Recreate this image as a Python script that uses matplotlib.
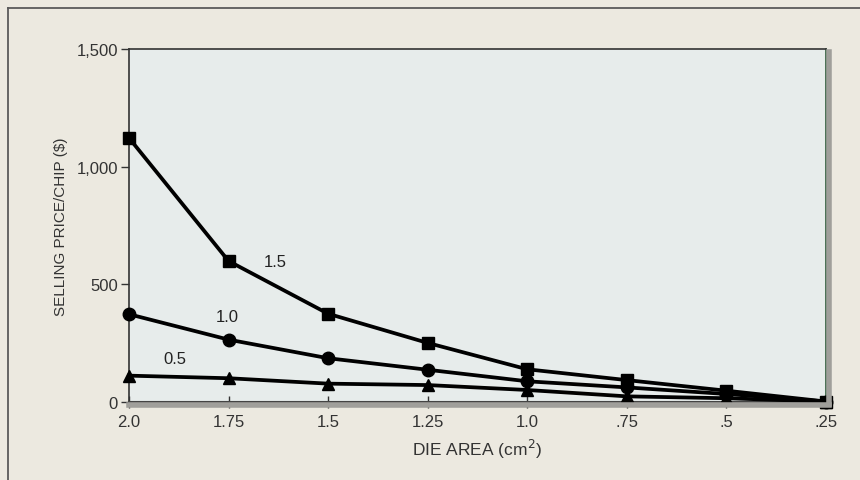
import matplotlib
matplotlib.use("Agg")
import matplotlib.pyplot as plt
from matplotlib.lines import Line2D

plt.rcParams['font.family'] = ['Liberation Sans', 'DejaVu Sans']

die_area = [2.0, 1.75, 1.5, 1.25, 1.0, 0.75, 0.5, 0.25]
x_tick_labels = ["2.0", "1.75", "1.5", "1.25", "1.0", ".75", ".5", ".25"]
y_ticks = [0, 500, 1000, 1500]
y_tick_labels = ["0", "500", "1,000", "1,500"]

price_15 = [1122, 599, 375, 251, 139, 93, 48, 2]
price_10 = [373, 265, 186, 137, 88, 62, 34, 2]
price_05 = [112, 101, 78, 72, 51, 24, 16, 2]

series_names = ["1.5", "1.0", "0.5"]
series_vals = [price_15, price_10, price_05]
markers = ["s", "o", "^"]
label_pos = [(1.634, 595), (1.754, 365), (1.885, 183)]

page_bg = "#ece9e0"
plot_bg = "#e7eceb"

fig = plt.figure(figsize=(8.6, 4.81), dpi=100)
fig.patch.set_facecolor(page_bg)

# outer frame lines (top and left)
fig.add_artist(Line2D([8/860, 1.0], [1 - 9/481, 1 - 9/481], transform=fig.transFigure,
                      color="#5a5a5a", lw=1.3))
fig.add_artist(Line2D([8/860, 8/860], [0, 1 - 9/481], transform=fig.transFigure,
                      color="#5a5a5a", lw=1.3))

ax = fig.add_axes([129/860, 78/481, 697/860, 353/481])
ax.set_facecolor(plot_bg)

# shadows on right and bottom
fig.add_artist(Line2D([829/860, 829/860], [76/481, 428/481], transform=fig.transFigure,
                      color="#a09f9b", lw=4, zorder=0.5))
fig.add_artist(Line2D([129/860, 829/860], [75.5/481, 75.5/481], transform=fig.transFigure,
                      color="#a09f9b", lw=4, zorder=0.5))

for vals, m in zip(series_vals, markers):
    ax.plot(die_area, vals, color="black", lw=2.7, marker=m, markersize=9 if m != "^" else 8,
            markeredgecolor="black", markerfacecolor="black", clip_on=False, zorder=3)

for name, (lx, ly) in zip(series_names, label_pos):
    ax.text(lx, ly, name, fontsize=12, color="#222222", ha="center", va="center")

ax.set_xlim(2.0, 0.25)
ax.set_ylim(0, 1500)
ax.set_xticks(die_area)
ax.set_xticklabels(x_tick_labels)
ax.set_yticks(y_ticks)
ax.set_yticklabels(y_tick_labels)

ax.tick_params(axis="y", direction="out", length=6, width=1, labelsize=12,
               colors="#333333", pad=2)
ax.tick_params(axis="x", direction="inout", length=8, width=1, labelsize=12,
               colors="#333333", pad=5)

for side in ["left", "top"]:
    ax.spines[side].set_color("#333333")
    ax.spines[side].set_linewidth(1.2)
ax.spines["right"].set_color("#2f5a3a")
ax.spines["right"].set_linewidth(1.2)
ax.spines["bottom"].set_color("#444444")
ax.spines["bottom"].set_linewidth(1.5)

ax.set_ylabel("SELLING PRICE/CHIP ($)", fontsize=11, color="#333333")
ax.yaxis.set_label_coords(-0.0875, 0.5)
ax.set_xlabel("DIE AREA (cm$^{2}$)", fontsize=12.5, color="#333333")
ax.xaxis.set_label_coords(0.5, -0.1)

fig.savefig("out.png", dpi=100, facecolor=page_bg)
